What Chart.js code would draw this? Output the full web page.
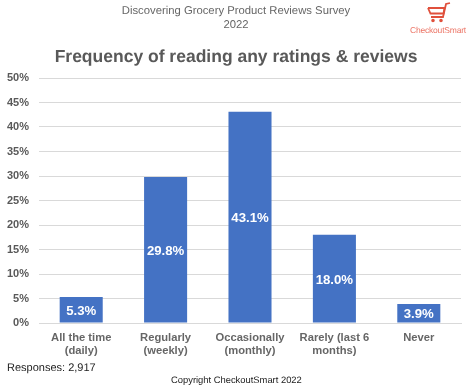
<!DOCTYPE html>
<html>
<head>
<meta charset="utf-8">
<title>Frequency of reading any ratings & reviews</title>
<script src="https://cdn.jsdelivr.net/npm/chart.js@4"></script>
<style>
    body { margin: 0; background: #fff; font-family: "Liberation Sans", Arial, sans-serif; text-rendering: geometricPrecision; }
    #wrap { position: relative; width: 472px; height: 391px; overflow: hidden; }
    #chart { position: absolute; left: 0; top: 0; }
    .txt { position: absolute; white-space: nowrap; }
    #survey { left: 0; top: 5px; width: 472px; text-align: center; font-size: 11.3px; line-height: 13.5px; color: #666; }
    #heading { left: 0; top: 46px; width: 472px; text-align: center; font-size: 17.5px; font-weight: bold; color: #595959; }
    #brand { left: 410px; top: 25px; font-size: 8.5px; letter-spacing: -0.2px; color: #ec7566; }
    #responses { left: 7px; top: 362px; font-size: 11px; color: #222; }
    #copyright { left: 171px; top: 374px; font-size: 9.4px; color: #222; }
    #logo { position: absolute; left: 427px; top: 2px; }
</style>
</head>
<body>
<div id="wrap">
    <canvas id="chart" width="472" height="391"></canvas>
    <div class="txt" id="survey">Discovering Grocery Product Reviews Survey<br>2022</div>
    <div class="txt" id="heading">Frequency of reading any ratings &amp; reviews</div>
    <svg id="logo" width="24" height="21" viewBox="0 0 24 21" fill="none" stroke="#e0503c" stroke-width="1.8">
        <path d="M23 1 L19 2 L16 15 L4 15"/>
        <path d="M1 6 L17.5 6 L16.5 11.5 L3.5 11.5 L1 6"/>
        <circle cx="6" cy="18.5" r="0.9"/>
        <circle cx="14" cy="18.5" r="0.9"/>
    </svg>
    <div class="txt" id="brand">CheckoutSmart</div>
    <div class="txt" id="responses">Responses: 2,917</div>
    <div class="txt" id="copyright">Copyright CheckoutSmart 2022</div>
</div>
<script>
const categories = [
    ["All the time", "(daily)"],
    ["Regularly", "(weekly)"],
    ["Occasionally", "(monthly)"],
    ["Rarely (last 6", "months)"],
    ["Never"]
];
const percentages = [5.3, 29.8, 43.1, 18.0, 3.9];

// no datalabels plugin here, so write the values in the bars by hand
const barLabels = {
    id: "barLabels",
    afterDatasetsDraw(chart) {
        const ctx = chart.ctx;
        const bars = chart.getDatasetMeta(0).data;
        ctx.save();
        ctx.fillStyle = "#fff";
        ctx.font = 'bold 13.2px "Liberation Sans", Arial, sans-serif';
        ctx.textAlign = "center";
        ctx.textBaseline = "middle";
        bars.forEach((bar, index) => {
            const midY = (bar.y + bar.base) / 2;
            ctx.fillText(percentages[index].toFixed(1) + "%", bar.x, midY + 1.5);
        });
        ctx.restore();
    }
};

new Chart(document.getElementById("chart").getContext("2d"), {
    type: "bar",
    data: {
        labels: categories,
        datasets: [{
            data: percentages,
            backgroundColor: "#4472c4",
            barPercentage: 0.51,
            categoryPercentage: 1
        }]
    },
    options: {
        responsive: false,
        animation: false,
        layout: { padding: { top: 78, right: 11, bottom: 0, left: 0 } },
        plugins: {
            legend: { display: false },
            tooltip: { enabled: false }
        },
        scales: {
            x: {
                grid: { display: false },
                border: { color: "#d9d9d9" },
                ticks: {
                    color: "#666",
                    font: { family: '"Liberation Sans", Arial, sans-serif', size: 11.2, weight: "bold" },
                    maxRotation: 0,
                    autoSkip: false,
                    padding: 0
                },
                afterFit(scale) { scale.height = 68; }
            },
            y: {
                min: 0,
                max: 50,
                grid: { color: "#d9d9d9", drawTicks: false },
                border: { display: false },
                ticks: {
                    stepSize: 5,
                    color: "#595959",
                    font: { family: '"Liberation Sans", Arial, sans-serif', size: 11, weight: "bold" },
                    padding: 10,
                    callback: (value) => value + "%"
                },
                afterFit(scale) { scale.width = 39; }
            }
        }
    },
    plugins: [barLabels]
});
</script>
</body>
</html>
